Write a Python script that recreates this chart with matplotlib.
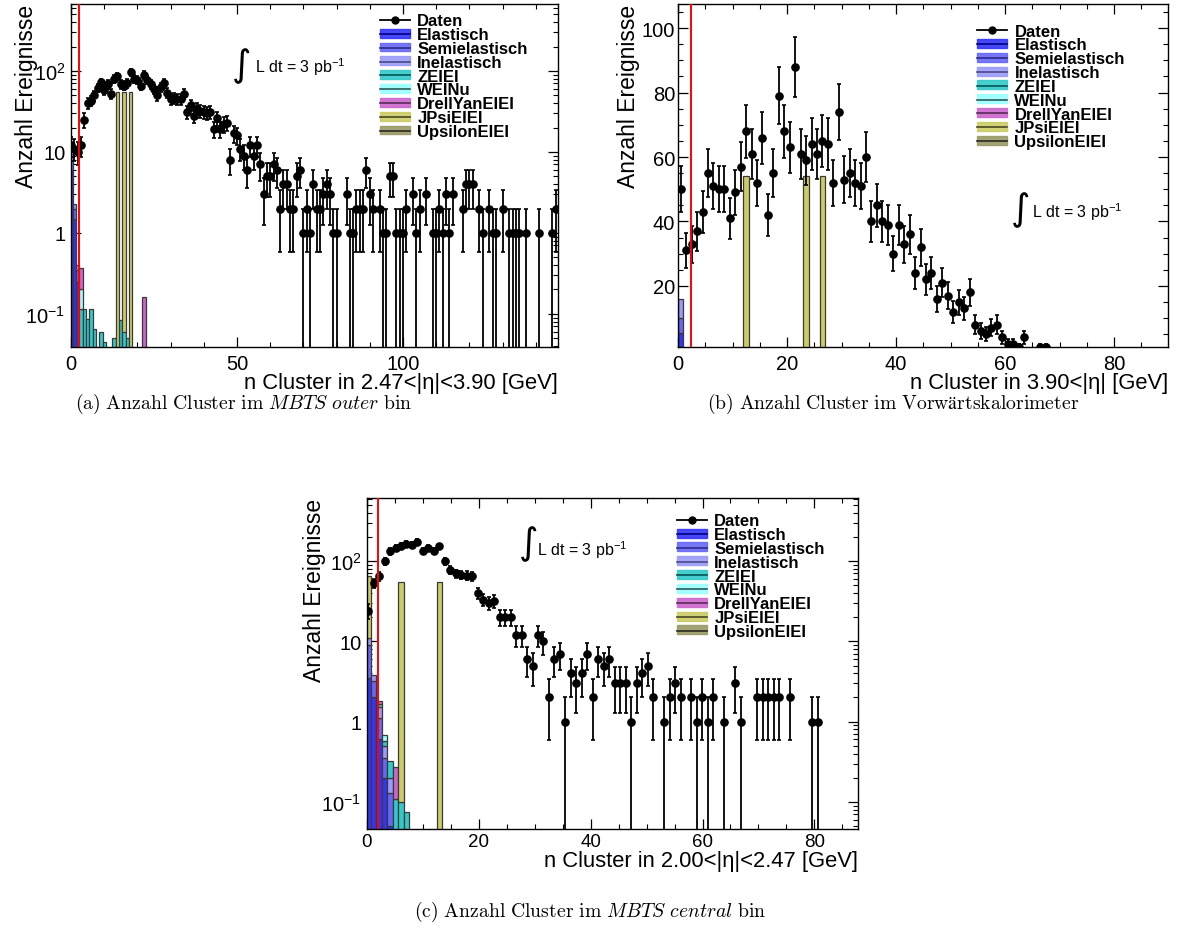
import numpy as np
import matplotlib
matplotlib.use('Agg')
import matplotlib.pyplot as plt
from matplotlib.patches import Patch
from matplotlib.lines import Line2D
from matplotlib.ticker import MultipleLocator, FixedLocator, FixedFormatter, LogLocator, NullFormatter

plt.rcParams['font.family'] = ['Liberation Sans', 'DejaVu Sans']
plt.rcParams['mathtext.fontset'] = 'custom'
plt.rcParams['mathtext.rm'] = 'Liberation Sans'
plt.rcParams['mathtext.it'] = 'Liberation Sans:italic'
plt.rcParams['mathtext.bf'] = 'Liberation Sans:bold'

# ---------------- data ----------------
legend_labels = ['Daten', 'Elastisch', 'Semielastisch', 'Inelastisch', 'ZEIEI',
                 'WEINu', 'DrellYanEIEI', 'JPsiEIEI', 'UpsilonEIEI']

# panel (a): MBTS outer, bins centred on integers
a_x = list(range(0, 62)) + [62, 63, 64, 65, 66, 67, 68, 69, 70, 71, 72, 73, 74, 75, 76, 77, 78, 79, 80,
                             83, 84, 85, 86, 87, 88, 89, 90, 91, 93, 94, 95, 96, 97, 98, 99, 100, 101,
                             103, 104, 105, 107, 109, 110, 111, 112, 113, 114, 115, 118, 119, 120, 121,
                             123, 124, 126, 127, 128, 130, 132, 133, 134, 135, 137, 141, 145, 146]
a_n = [12, 11, 10, 12, 25, 40, 43, 50, 62, 72, 58, 68, 52, 80, 86, 68, 66, 70, 96, 80,
       77, 66, 90, 77, 68, 60, 50, 63, 70, 54, 45, 46, 45, 45, 52, 31, 38, 28, 34, 32,
       31, 30, 31, 19, 26, 19, 22, 23, 8, 17, 16, 11, 9, 6, 12, 9, 12, 7, 3, 5,
       5, 7,
       6, 2, 4, 4, 2, 2, 5, 6, 1, 2, 1, 4, 2, 2, 3, 4, 3, 1, 1,
       3, 1, 1, 2, 2, 2, 6, 3, 2, 2, 1, 1, 5, 5, 1, 1, 1, 2,
       3, 1, 2, 3, 1, 1, 2, 1, 3, 1, 3, 2, 4, 4, 4,
       2, 1, 2, 1, 1, 2, 1, 1, 1, 1, 1, 1, 1, 2]
a_mc_x = list(range(0, 23))
a_mc = {
    'Elastisch':     [6, 1.5, 0.25] + [0] * 20,
    'Semielastisch': [2, 0.5, 0.1] + [0] * 20,
    'Inelastisch':   [1.5, 0.3, 0.05] + [0] * 20,
    'ZEIEI':         [0, 0, 0, 0.115, 0.115, 0.087, 0.115, 0.065, 0, 0.06, 0.045, 0, 0, 0.05, 0,
                      0.083, 0.06, 0.05, 0, 0, 0, 0, 0],
    'WEINu':         [0, 0, 0, 0.085] + [0] * 19,
    'DrellYanEIEI':  [0, 0, 0, 0.17] + [0] * 18 + [0.16],
    'JPsiEIEI':      [0] * 14 + [55, 0, 55, 0, 55] + [0] * 4,
    'UpsilonEIEI':   [0] * 23,
}

# panel (b): forward calorimeter, bins [i, i+1)
b_n = [50, 31, 33, 37, 43, 55, 51, 50, 50, 41,
       49, 57, 68, 61, 52, 66, 42, 55, 79, 68,
       63, 88, 61, 59, 64, 61, 65, 64, 52, 74,
       53, 55, 52, 51, 60, 40, 45, 40, 39, 30,
       39, 33, 36, 24, 32, 22, 24, 16, 21, 17,
       12, 15, 13, 18, 8, 6, 5, 7, 8, 4,
       2, 2, 1, 4, 0, 0, 1, 1]
b_mc_x = list(range(0, 27))
b_mc = {
    'Elastisch':     [5.3] + [0] * 26,
    'Semielastisch': [4.9] + [0] * 26,
    'Inelastisch':   [5.8] + [0] * 26,
    'ZEIEI':         [0] * 27,
    'WEINu':         [0] * 27,
    'DrellYanEIEI':  [0] * 27,
    'JPsiEIEI':      [0] * 12 + [54] + [0] * 10 + [54, 0, 0, 54],
    'UpsilonEIEI':   [0] * 27,
}

# panel (c): MBTS central
c_n = [24, 53, 65, 100, 132, 145, 155, 165, 160, 175,
       133, 145, 133, 152, 100, 77, 70, 68, 66, 65,
       40, 33, 30, 32, 20, 20, 20, 12, 12, 6,
       5, 12, 10, 2, 6, 7, 1, 4, 3, 4,
       7, 2, 6, 5, 6, 3, 3, 3, 1, 3,
       4, 5, 2, 0, 1, 2, 3, 2, 0, 2,
       1, 2, 1, 2, 0, 1, 0, 3, 1, 0,
       0, 2, 2, 2, 2, 2, 0, 2, 0, 0,
       0, 1, 1]
c_mc = {
    'Elastisch':     [3.5, 2.0, 0.6, 0.2, 0.05, 0, 0, 0, 0, 0, 0, 0, 0, 0],
    'Semielastisch': [5.5, 1.2, 0.5, 0.15, 0.08, 0, 0, 0, 0, 0, 0, 0, 0, 0],
    'Inelastisch':   [2.0, 0.6, 0.4, 0.15, 0.07, 0, 0, 0, 0, 0, 0, 0, 0, 0],
    'ZEIEI':         [0, 0, 0.15, 0.08, 0.12, 0.11, 0.1, 0.075, 0, 0, 0, 0, 0, 0],
    'WEINu':         [0, 0, 0, 0.1, 0, 0, 0, 0, 0, 0, 0, 0, 0, 0],
    'DrellYanEIEI':  [0, 0, 0.15, 0, 0, 0.16, 0, 0, 0, 0, 0, 0, 0, 0],
    'JPsiEIEI':      [55, 0, 0, 0, 0, 0, 55, 0, 0, 0, 0, 0, 0, 55],
    'UpsilonEIEI':   [0] * 14,
}
c_bin_width = 0.98
c_first_centre = 0.2

cut_a, cut_b, cut_c = 2.5, 2.35, 2.0
lumi = 3

fill_colors = {'Elastisch': '#3434f4', 'Semielastisch': '#6767f6', 'Inelastisch': '#9a9af8',
               'ZEIEI': '#33c9c9', 'WEINu': '#99ffff', 'DrellYanEIEI': '#cc66cc',
               'JPsiEIEI': '#cccc66', 'UpsilonEIEI': '#999966'}
line_colors = {'Elastisch': '#00008a', 'Semielastisch': '#2a2a8a', 'Inelastisch': '#4a4a8a',
               'ZEIEI': '#005555', 'WEINu': '#2a5a5a', 'DrellYanEIEI': '#5a2a5a',
               'JPsiEIEI': '#4a4a20', 'UpsilonEIEI': '#2a2a20'}

# ---------------- figure ----------------
fig = plt.figure(figsize=(11.78, 9.29), dpi=100)
W, H = 1178, 929


def axes_px(l, t, r, b):
    return fig.add_axes([l / W, 1 - b / H, (r - l) / W, (b - t) / H])


ax_a = axes_px(71, 5, 558, 348)
ax_b = axes_px(678, 5, 1168, 348)
ax_c = axes_px(367, 499, 858, 830)


def draw_stack(ax, centres, mc, width, base):
    bottom = np.full(len(centres), base, float)
    for name in legend_labels[1:]:
        vals = np.asarray(mc[name], float)
        m = vals > 0
        if m.any():
            ax.bar(np.asarray(centres)[m], vals[m], width=width, bottom=bottom[m],
                   color=fill_colors[name], edgecolor='#3a3a3a', linewidth=0.9, zorder=2)
        bottom = bottom + vals


def draw_data(ax, x, n, logy):
    x = np.asarray(x, float)
    n = np.asarray(n, float)
    m = n > 0
    x, n = x[m], n[m]
    err = np.sqrt(n)
    lo = np.minimum(err, n - 1e-3) if logy else err
    ax.errorbar(x, n, yerr=[lo, err], fmt='o', color='black', ms=5.2, lw=1.3,
                elinewidth=1.3, capsize=1.6, capthick=1.2, zorder=4)


def style(ax, logy):
    ax.tick_params(which='both', direction='in', top=True, right=True, labelsize=14.5)
    ax.tick_params(which='major', length=7, width=0.9)
    ax.tick_params(which='minor', length=3.5, width=0.8)
    for s in ax.spines.values():
        s.set_linewidth(1.0)
    if logy:
        ax.set_yscale('log')
        ax.yaxis.set_major_locator(FixedLocator([0.1, 1, 10, 100]))
        ax.yaxis.set_major_formatter(FixedFormatter(['$10^{-1}$', '1', '10', '$10^{2}$']))
        ax.yaxis.set_minor_locator(LogLocator(base=10, subs=np.arange(2, 10), numticks=20))
        ax.yaxis.set_minor_formatter(NullFormatter())
    ax.tick_params(axis='x', pad=5)
    ax.tick_params(axis='y', pad=4)


def legend(ax, anchor):
    handles = [Line2D([], [], color='black', marker='o', ms=5, lw=1.3)]
    for name in legend_labels[1:]:
        handles.append((Patch(facecolor=fill_colors[name], edgecolor=fill_colors[name], alpha=0.9),
                        Line2D([], [], color=line_colors[name], lw=1.2)))
    ax.legend(handles, legend_labels, loc='upper left', bbox_to_anchor=anchor,
              frameon=False, borderpad=0, borderaxespad=0, handlelength=1.8,
              handleheight=0.45, handletextpad=0.45, labelspacing=-0.07,
              prop={'weight': 'bold', 'size': 12})


def lumi_text(ax, xi, yi, xl, yl):
    ax.text(xi, yi, r'$\int$', transform=ax.transAxes, fontsize=19,
            math_fontfamily='dejavusans', ha='center', va='center')
    ax.text(xl, yl, 'L dt = %d pb$^{-1}$' % lumi, transform=ax.transAxes,
            fontsize=11.5, ha='left', va='center')


ylab_size = 16.5
xlab_size = 15.8

# ---- panel a ----
style(ax_a, True)
draw_stack(ax_a, a_mc_x, a_mc, 1.0, 1e-4)
draw_data(ax_a, a_x, a_n, True)
ax_a.axvline(cut_a, color='red', lw=1.4, zorder=5)
ax_a.set_xlim(0, 146.7)
ax_a.set_ylim(0.039, 670)
ax_a.xaxis.set_major_locator(FixedLocator([0, 50, 100]))
ax_a.xaxis.set_minor_locator(MultipleLocator(10))
ax_a.set_ylabel('Anzahl Ereignisse', fontsize=ylab_size, loc='top')
ax_a.yaxis.set_label_coords(-0.068, 1.0)
ax_a.set_xlabel('n Cluster in 2.47<|\u03b7|<3.90 [GeV]', fontsize=xlab_size, loc='right')
ax_a.xaxis.set_label_coords(1.0, -0.073)
legend(ax_a, (0.634, 0.973))
lumi_text(ax_a, 0.349, 0.822, 0.378, 0.819)

# ---- panel b ----
style(ax_b, False)
b_centres = np.arange(len(b_n)) + 0.5
draw_stack(ax_b, np.asarray(b_mc_x) + 0.5, b_mc, 1.0, 0)
draw_data(ax_b, b_centres, b_n, False)
ax_b.axvline(cut_b, color='red', lw=1.4, zorder=5)
ax_b.set_xlim(0, 89.9)
ax_b.set_ylim(1.05, 107.5)
ax_b.xaxis.set_major_locator(MultipleLocator(20))
ax_b.xaxis.set_minor_locator(MultipleLocator(5))
ax_b.yaxis.set_major_locator(FixedLocator([20, 40, 60, 80, 100]))
ax_b.yaxis.set_minor_locator(MultipleLocator(5))
ax_b.tick_params(axis='y', pad=2)
ax_b.set_ylabel('Anzahl Ereignisse', fontsize=ylab_size, loc='top')
ax_b.yaxis.set_label_coords(-0.078, 1.0)
ax_b.set_xlabel('n Cluster in 3.90<|\u03b7| [GeV]', fontsize=xlab_size, loc='right')
ax_b.xaxis.set_label_coords(1.0, -0.073)
legend(ax_b, (0.610, 0.943))
lumi_text(ax_b, 0.698, 0.402, 0.722, 0.397)

# ---- panel c ----
style(ax_c, True)
c_centres = c_first_centre + c_bin_width * np.arange(len(c_n))
c_mc_centres = c_first_centre + c_bin_width * np.arange(len(c_mc['Elastisch']))
draw_stack(ax_c, c_mc_centres, c_mc, c_bin_width, 1e-4)
draw_data(ax_c, c_centres, c_n, True)
ax_c.axvline(cut_c, color='red', lw=1.4, zorder=5)
ax_c.set_xlim(0, 87.8)
ax_c.set_ylim(0.046, 610)
ax_c.xaxis.set_major_locator(MultipleLocator(20))
ax_c.xaxis.set_minor_locator(MultipleLocator(5))
ax_c.tick_params(axis='x', labelsize=13.5, pad=3)
ax_c.set_ylabel('Anzahl Ereignisse', fontsize=ylab_size, loc='top')
ax_c.yaxis.set_label_coords(-0.083, 1.0)
ax_c.set_xlabel('n Cluster in 2.00<|\u03b7|<2.47 [GeV]', fontsize=xlab_size, loc='right')
ax_c.xaxis.set_label_coords(1.0, -0.062)
legend(ax_c, (0.631, 0.954))
lumi_text(ax_c, 0.328, 0.864, 0.346, 0.846)

# ---- captions ----
cap_kw = dict(ha='center', va='center', fontsize=14.2, math_fontfamily='cm')
fig.text(244 / W, 1 - 404 / H,
         r'$\mathrm{(a)\ Anzahl\ Cluster\ im\ }\mathit{MBTS\ outer}\mathrm{\ bin}$', **cap_kw)
fig.text(893 / W, 1 - 404 / H,
         '$\\mathrm{(b)\\ Anzahl\\ Cluster\\ im\\ Vorw\u00e4rtskalorimeter}$', **cap_kw)
fig.text(590 / W, 1 - 912 / H,
         r'$\mathrm{(c)\ Anzahl\ Cluster\ im\ }\mathit{MBTS\ central}\mathrm{\ bin}$', **cap_kw)

fig.savefig('out.png', dpi=100)
